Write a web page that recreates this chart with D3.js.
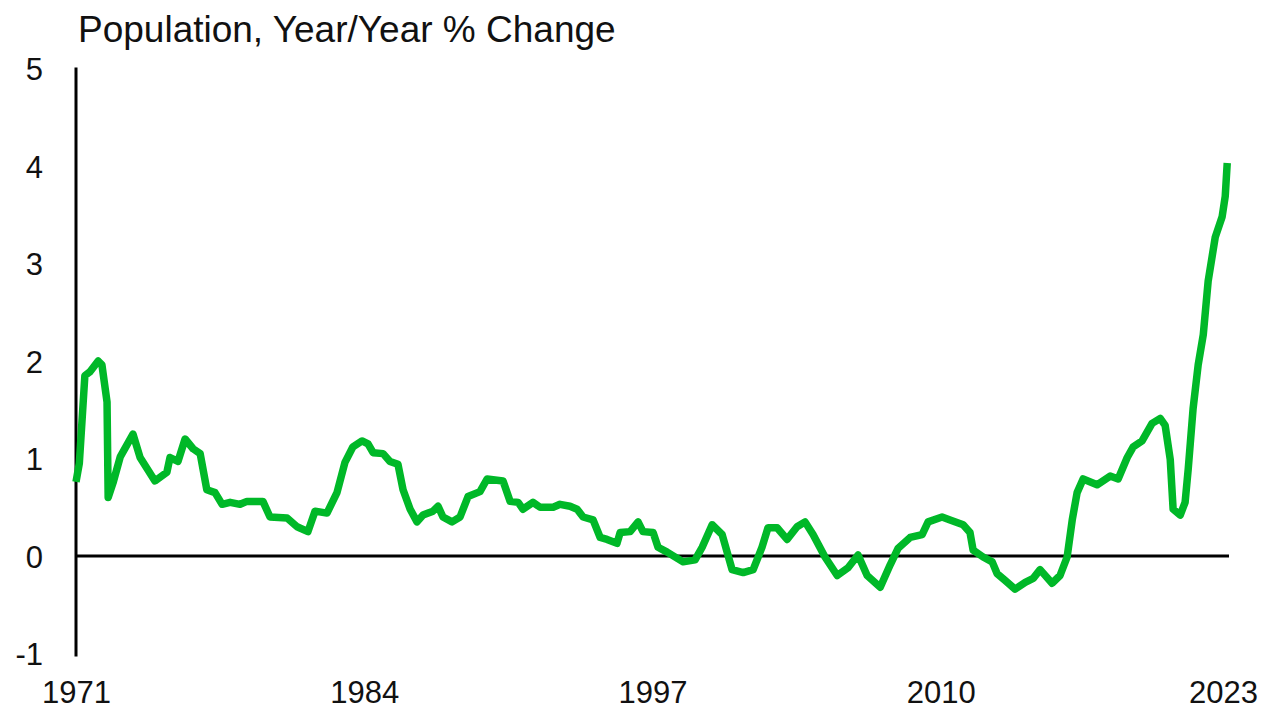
<!DOCTYPE html>
<html lang="en">
<head>
  <meta charset="UTF-8" />
  <title>Population, Year/Year % Change</title>
  <script src="https://unpkg.com/d3@7/dist/d3.min.js"></script>
  <style>
    body {
      margin: 0;
      background: #fff;
      font-family: "Liberation Sans", Arial, sans-serif;
    }
    svg { display: block; }
    .axis text {
      font-family: "Liberation Sans", Arial, sans-serif;
      font-size: 31px;
      fill: #111;
    }
    .title {
      font-size: 37px;
      fill: #111;
    }
  </style>
</head>
<body>
  <svg id="chart" width="1263" height="709"></svg>

  <script>
  // quarterly-ish readings, decimal year -> % change y/y
  const years = [
    1971.00, 1971.15, 1971.40, 1971.63, 1972.00, 1972.17, 1972.40, 1972.45, 1972.67, 1973.00,
    1973.57, 1973.89, 1974.56, 1975.10, 1975.24, 1975.60, 1975.92, 1976.28, 1976.60, 1976.90,
    1977.27, 1977.59, 1977.95, 1978.40, 1978.71, 1979.43, 1979.75, 1980.52, 1980.97, 1981.46,
    1981.78, 1982.32, 1982.77, 1983.13, 1983.49, 1983.90, 1984.17, 1984.40, 1984.85, 1985.16,
    1985.52, 1985.75, 1986.07, 1986.38, 1986.65, 1987.10, 1987.33, 1987.55, 1987.96, 1988.32,
    1988.68, 1989.22, 1989.54, 1990.26, 1990.58, 1990.94, 1991.16, 1991.61, 1991.93, 1992.52,
    1992.83, 1993.28, 1993.60, 1993.87, 1994.32, 1994.64, 1994.95, 1995.40, 1995.54, 1995.99,
    1996.35, 1996.57, 1997.03, 1997.25, 1997.66, 1998.38, 1998.92, 1999.24, 1999.69, 2000.14,
    2000.59, 2001.09, 2001.54, 2001.94, 2002.21, 2002.62, 2003.07, 2003.52, 2003.88, 2004.24,
    2004.78, 2005.33, 2005.82, 2006.27, 2006.68, 2007.27, 2007.72, 2008.08, 2008.62, 2009.16,
    2009.43, 2010.06, 2010.42, 2011.01, 2011.32, 2011.46, 2011.91, 2012.32, 2012.54, 2012.90,
    2013.35, 2013.81, 2014.17, 2014.48, 2015.02, 2015.38, 2015.70, 2015.93, 2016.15, 2016.42,
    2017.05, 2017.64, 2018.00, 2018.41, 2018.68, 2019.08, 2019.53, 2019.90, 2020.12, 2020.35,
    2020.48, 2020.80, 2021.02, 2021.16, 2021.38, 2021.61, 2021.84, 2022.06, 2022.38, 2022.69,
    2022.83, 2022.92
  ];
  const pctChange = [
    0.76, 0.95, 1.85, 1.89, 2.00, 1.96, 1.58, 0.60, 0.75, 1.02,
    1.25, 1.01, 0.77, 0.86, 1.01, 0.97, 1.20, 1.10, 1.05, 0.68,
    0.65, 0.53, 0.55, 0.53, 0.56, 0.56, 0.40, 0.39, 0.30, 0.25,
    0.46, 0.44, 0.65, 0.96, 1.12, 1.18, 1.15, 1.06, 1.05, 0.97,
    0.94, 0.68, 0.48, 0.35, 0.42, 0.46, 0.51, 0.40, 0.35, 0.40,
    0.61, 0.66, 0.79, 0.77, 0.56, 0.55, 0.48, 0.55, 0.50, 0.50,
    0.53, 0.51, 0.48, 0.40, 0.37, 0.19, 0.17, 0.13, 0.24, 0.25,
    0.35, 0.25, 0.24, 0.09, 0.04, -0.06, -0.04, 0.09, 0.32, 0.22,
    -0.14, -0.17, -0.14, 0.09, 0.29, 0.29, 0.17, 0.30, 0.35, 0.22,
    -0.01, -0.20, -0.12, 0.01, -0.20, -0.32, -0.09, 0.08, 0.19, 0.22,
    0.35, 0.40, 0.37, 0.32, 0.24, 0.06, -0.01, -0.06, -0.18, -0.25,
    -0.34, -0.27, -0.23, -0.14, -0.28, -0.20, -0.01, 0.37, 0.65, 0.79,
    0.73, 0.82, 0.79, 1.01, 1.12, 1.18, 1.36, 1.41, 1.34, 0.99,
    0.48, 0.42, 0.55, 0.89, 1.51, 1.96, 2.27, 2.82, 3.27, 3.48,
    3.69, 4.03
  ];
  const xTicks = [1971, 1984, 1997, 2010, 2023];
  const yTicks = [-1, 0, 1, 2, 3, 4, 5];

  const data = years.map((yr, i) => ({ yr, v: pctChange[i] }));

  const svg = d3.select("#chart");

  const x = d3.scaleLinear()
    .domain([1971, 2023])
    .range([76, 1229]);

  const y = d3.scaleLinear()
    .domain([-1, 5])
    .range([653.5, 68.5]);

  svg.append("text")
    .attr("class", "title")
    .attr("x", 78)
    .attr("y", 42)
    .text("Population, Year/Year % Change");

  // y axis
  const yAxis = svg.append("g")
    .attr("class", "axis")
    .attr("transform", `translate(${x(1971)},0)`)
    .call(d3.axisLeft(y).tickValues(yTicks).tickFormat(d => String(d)).tickSize(0).tickPadding(33));
  yAxis.select(".domain").remove();
  yAxis.selectAll("text").attr("dy", "0.36em");

  svg.append("line")
    .attr("x1", x(1971)).attr("x2", x(1971))
    .attr("y1", y(5) - 1).attr("y2", y(-1) + 3)
    .attr("stroke", "#000")
    .attr("stroke-width", 3);

  // x axis labels sit under the plot, the zero line carries no ticks
  const xAxis = svg.append("g")
    .attr("class", "axis")
    .attr("transform", `translate(0,${y(-1)})`)
    .call(d3.axisBottom(x).tickValues(xTicks).tickFormat(d3.format("d")).tickSize(0).tickPadding(27));
  xAxis.select(".domain").remove();
  xAxis.selectAll("text")
    .filter(d => d === 2023)
    .attr("dx", -6);

  svg.append("line")
    .attr("x1", x(1971)).attr("x2", x(2023))
    .attr("y1", y(0)).attr("y2", y(0))
    .attr("stroke", "#000")
    .attr("stroke-width", 3);

  const line = d3.line()
    .x(d => x(d.yr))
    .y(d => y(d.v));

  svg.append("path")
    .datum(data)
    .attr("fill", "none")
    .attr("stroke", "#00b828")
    .attr("stroke-width", 7.5)
    .attr("stroke-linejoin", "round")
    .attr("stroke-linecap", "butt")
    .attr("d", line);
  </script>
</body>
</html>
